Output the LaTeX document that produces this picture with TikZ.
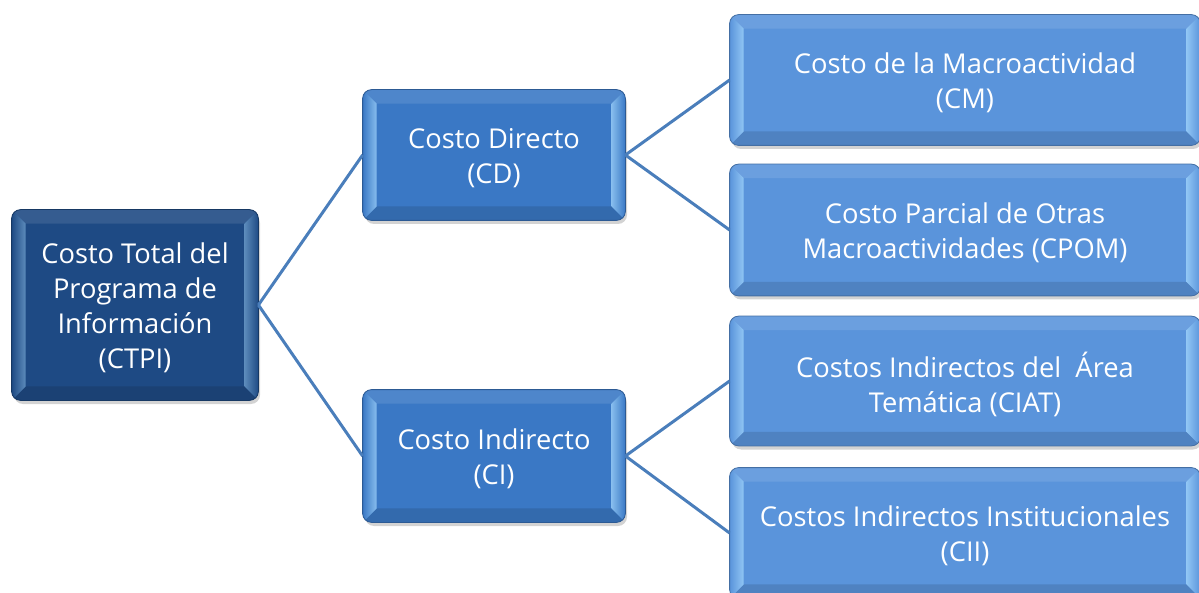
\documentclass[tikz,border=0pt]{standalone}
\usepackage{fontspec}
\setmainfont{Open Sans}
\usetikzlibrary{shadows}
\definecolor{dkblue}{HTML}{1E4A84}
\definecolor{mdblue}{HTML}{3A78C5}
\definecolor{ltblue}{HTML}{5A94DB}
\definecolor{hilite}{HTML}{A8DBFF}
\definecolor{connc}{HTML}{4A7EBB}
\tikzset{
  box/.style={rounded corners=9pt, draw=#1!75!black, line width=0.8pt, fill=#1,
    inner sep=0pt,
    drop shadow={opacity=0.35, shadow xshift=2pt, shadow yshift=-4pt}},
  lbl/.style={text=white, align=center, font=\fontsize{27.3}{35}\selectfont},
  conn/.style={draw=connc, line width=3pt},
}
\newcommand{\bevelbox}[3]{% name, base colour, highlight strength
  \begin{scope}
    \clip[rounded corners=9pt] (#1.north west) rectangle (#1.south east);
    \fill[#2!90!white] (#1.north west) -- (#1.north east)
      -- ([shift={(-14pt,-14pt)}]#1.north east) -- ([shift={(14pt,-14pt)}]#1.north west) -- cycle;
    \fill[#2!88!black] (#1.south west) -- (#1.south east)
      -- ([shift={(-14pt,14pt)}]#1.south east) -- ([shift={(14pt,14pt)}]#1.south west) -- cycle;
    \shade[left color=#2, right color=hilite!#3!#2] (#1.north west)
      -- ([shift={(14pt,-14pt)}]#1.north west) -- ([shift={(14pt,14pt)}]#1.south west)
      -- (#1.south west) -- cycle;
    \shade[right color=#2, left color=hilite!#3!#2] (#1.north east)
      -- ([shift={(-14pt,-14pt)}]#1.north east) -- ([shift={(-14pt,14pt)}]#1.south east)
      -- (#1.south east) -- cycle;
  \end{scope}
  \draw[#2!75!black, line width=0.8pt, rounded corners=9pt] (#1.north west) rectangle (#1.south east);
}
\begin{document}
\begin{tikzpicture}[x=1pt, y=-1pt]
  \useasboundingbox (0,0) rectangle (1199,593);
  \node[box=dkblue, minimum width=246pt, minimum height=190pt] (ctpi) at (135,305) {};
  \node[box=mdblue, minimum width=262pt, minimum height=130pt] (cd) at (494,155) {};
  \node[box=mdblue, minimum width=262pt, minimum height=132pt] (ci) at (494,456) {};
  \node[box=ltblue, minimum width=470pt, minimum height=130pt] (cm) at (965,80) {};
  \node[box=ltblue, minimum width=470pt, minimum height=131pt] (cpom) at (965,230) {};
  \node[box=ltblue, minimum width=470pt, minimum height=129pt] (ciat) at (965,381) {};
  \node[box=ltblue, minimum width=470pt, minimum height=130pt] (cii) at (965,533) {};
  \bevelbox{ctpi}{dkblue}{45}
  \bevelbox{cd}{mdblue}{70}
  \bevelbox{ci}{mdblue}{70}
  \bevelbox{cm}{ltblue}{70}
  \bevelbox{cpom}{ltblue}{70}
  \bevelbox{ciat}{ltblue}{70}
  \bevelbox{cii}{ltblue}{70}
  \node[lbl] (tctpi) at ([yshift=-3pt]ctpi.center) {Costo Total del\\Programa de\\Información\\(CTPI)};
  \node[lbl] (tcd) at ([yshift=-3pt]cd.center) {Costo Directo\\(CD)};
  \node[lbl] (tci) at ([yshift=-3pt]ci.center) {Costo Indirecto\\(CI)};
  \node[lbl] (tcm) at ([yshift=-3pt]cm.center) {Costo de la Macroactividad\\(CM)};
  \node[lbl] (tcpom) at ([yshift=-3pt]cpom.center) {Costo Parcial de Otras\\Macroactividades (CPOM)};
  \node[lbl] (tciat) at ([yshift=-3pt]ciat.center) {Costos Indirectos del\ \ Área\\Temática (CIAT)};
  \node[lbl] (tcii) at ([yshift=-3pt]cii.center) {Costos Indirectos Institucionales\\(CII)};
  \draw[conn] (ctpi.east) -- (cd.west);
  \draw[conn] (ctpi.east) -- (ci.west);
  \draw[conn] (cd.east) -- (cm.west);
  \draw[conn] (cd.east) -- (cpom.west);
  \draw[conn] (ci.east) -- (ciat.west);
  \draw[conn] (ci.east) -- (cii.west);
\end{tikzpicture}
\end{document}
